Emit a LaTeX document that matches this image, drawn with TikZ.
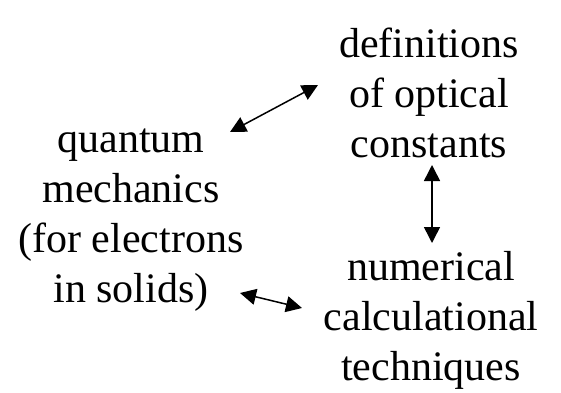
\documentclass[tikz,border=0pt]{standalone}
\usepackage{fontspec}
\setmainfont{Liberation Serif}
\usepackage{tikz}
\usetikzlibrary{arrows.meta, positioning, calc}

\begin{document}
\begin{tikzpicture}[x=1pt, y=1pt,
    topic/.style={align=center, inner sep=0pt, anchor=base, font=\fontsize{42}{50}\selectfont},
    link/.style={{Triangle[length=16pt,width=16pt]}-{Triangle[length=16pt,width=16pt]}, line width=1.5pt}]
    \useasboundingbox (0,0) rectangle (561,392);
    % =========================================================
    % THE THREE TOPICS
    % =========================================================
    \node[topic] (qm) at (131,90) {quantum\\mechanics\\(for electrons\\in solids)};
    \node[topic] (defs) at (429,235) {definitions\\of optical\\constants};
    \node[topic] (num) at (431,12) {numerical\\calculational\\techniques};

    % =========================================================
    % TWO-WAY LINKS BETWEEN THEM
    % =========================================================
    \draw[link] ($(qm.base)+(99,170)$) -- ($(defs.base)+(-111,72)$);
    \draw[link] ($(qm.base)+(109,9)$) -- ($(num.base)+(-129,72)$);
    \draw[link] ($(defs.base)+(3,-8)$) -- ($(num.base)+(1,137)$);
\end{tikzpicture}
\end{document}
